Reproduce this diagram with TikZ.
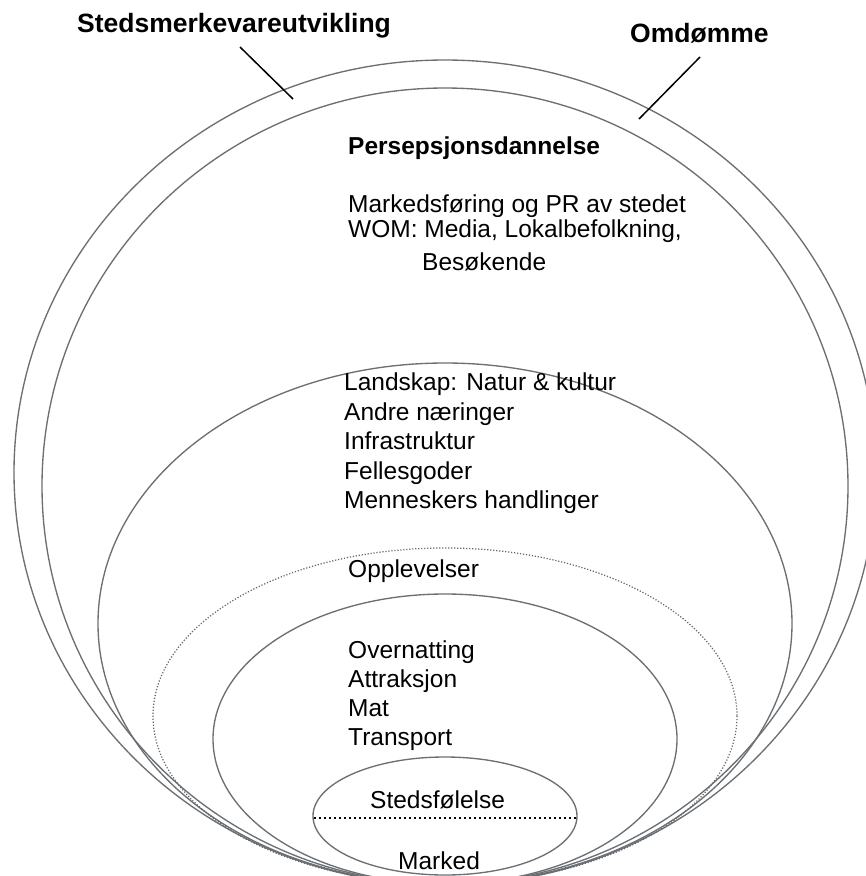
\documentclass[tikz,border=0pt]{standalone}
\usepackage{fontspec}
\setmainfont{Liberation Sans}
\begin{document}
\begin{tikzpicture}[x=1pt,y=-1pt,
  ring/.style={draw={rgb,255:red,108;green,112;blue,116}, line width=1.35pt},
  dotring/.style={draw={rgb,255:red,100;green,104;blue,108}, line width=1.25pt, dash pattern=on 1.2pt off 1.8pt},
  body/.style={font=\fontsize{24.5}{29}\selectfont, anchor=base west, inner sep=0pt},
  head/.style={font=\fontsize{24.5}{29}\selectfont\bfseries, anchor=base west, inner sep=0pt},
  title/.style={font=\fontsize{26.5}{31}\selectfont\bfseries, anchor=base west, inner sep=0pt},
  leader/.style={draw=black, line width=1.5pt},
  split/.style={draw=black, line width=1.6pt, dash pattern=on 1.8pt off 3.2pt}]
\useasboundingbox (0,0) rectangle (866,876);

% nested rings, all touching just below the lower edge
\draw[ring] (445,472.5) ellipse [x radius=431, y radius=412.5];
\draw[ring] (445,486) ellipse [x radius=403, y radius=398];
\draw[ring] (445,623.5) ellipse [x radius=347, y radius=260.5];
\draw[dotring] (445,716) ellipse [x radius=292, y radius=168];
\draw[ring] (445,739) ellipse [x radius=232, y radius=145];
\draw[ring] (445,816) ellipse [x radius=132, y radius=59];

% dividing line of the core
\coordinate (coreL) at (314,818);
\coordinate (coreR) at (577,818);
\draw[split] (coreL) -- (coreR);

% outer labels with leader lines
\node[title] (lblStedsmerke) at (77,32) {Stedsmerkevareutvikling};
\node[title] (lblOmdomme) at (630,42) {Omdømme};
\coordinate (leadSa) at (240,47);
\coordinate (leadSb) at (293,99);
\coordinate (leadOa) at (700,57);
\coordinate (leadOb) at (639,119);
\draw[leader] (leadSa) -- (leadSb);
\draw[leader] (leadOa) -- (leadOb);

% perception layer
\node[head] (persep) at (348,154) {Persepsjonsdannelse};
\node[body] (mark1) at (348,212) {Markedsføring og PR av stedet};
\node[body] (mark2) at (348,237) {WOM: Media, Lokalbefolkning,};
\node[body] (mark3) at (422,270) {Besøkende};

% place layer
\node[body] (land1) at (344,390.5) {Landskap: Natur \& kultur};
\node[body] (land2) at (344,420) {Andre næringer};
\node[body] (land3) at (344,449.5) {Infrastruktur};
\node[body] (land4) at (344,479) {Fellesgoder};
\node[body] (land5) at (344,508) {Menneskers handlinger};

% experience layer
\node[body] (oppl) at (348,577) {Opplevelser};

% product layer
\node[body] (prod1) at (348,658) {Overnatting};
\node[body] (prod2) at (348,687) {Attraksjon};
\node[body] (prod3) at (348,716) {Mat};
\node[body] (prod4) at (348,745) {Transport};

% core
\node[body] (sted) at (370,808) {Stedsfølelse};
\node[body] (marked) at (398,869) {Marked};
\end{tikzpicture}
\end{document}
